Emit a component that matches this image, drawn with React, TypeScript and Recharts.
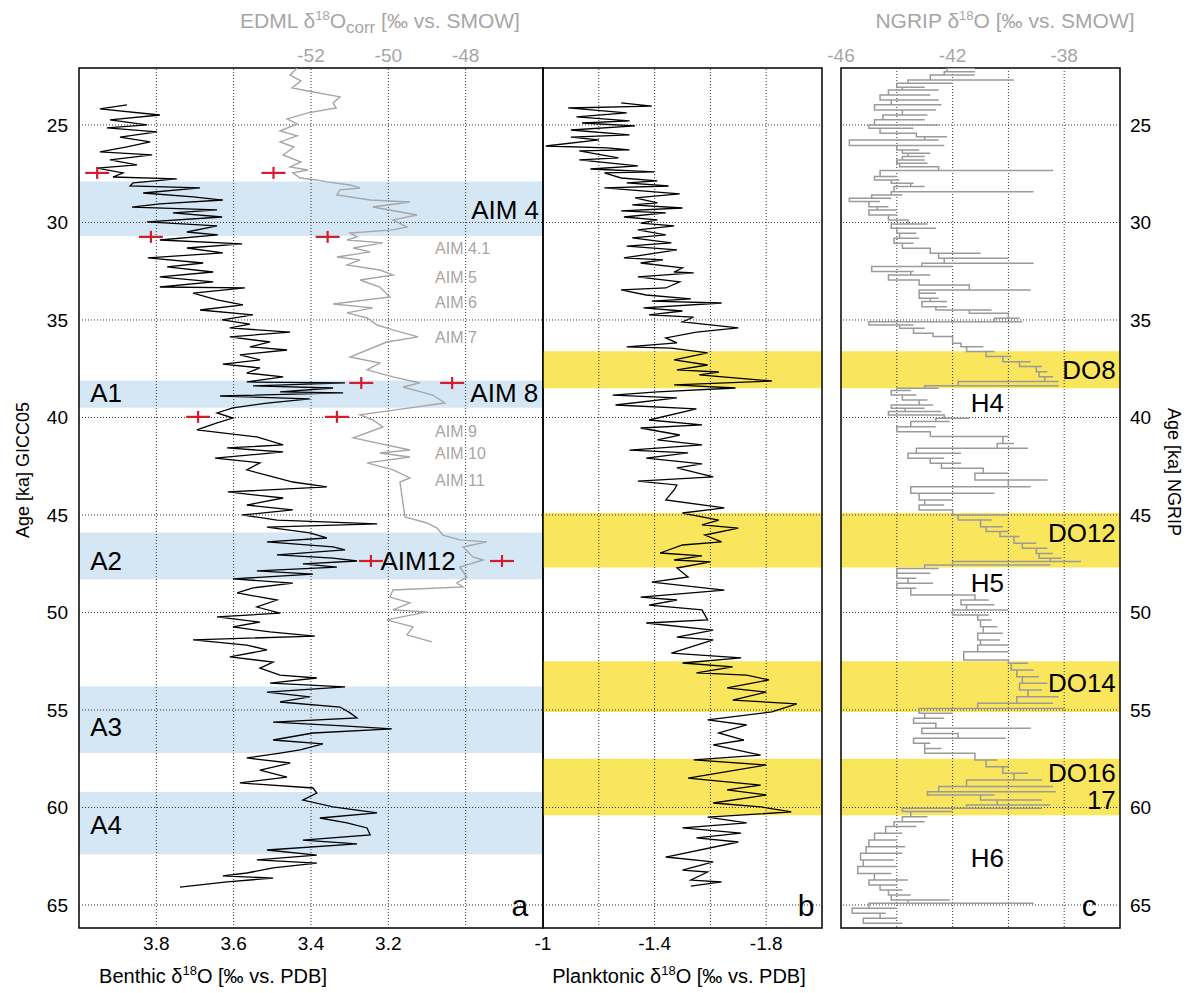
import React from 'react';
import { LineChart, Line, XAxis, YAxis, ReferenceArea, ReferenceLine, ReferenceDot } from 'recharts';

// age axis (ka, GICC05), shared by all three panels
const ageDomain = [22.08, 66.18];
const ageTicks = [25, 30, 35, 40, 45, 50, 55, 60, 65];

const benthicTicks = [3.8, 3.6, 3.4, 3.2];
const benthicGrid = [3.8, 3.6, 3.4, 3.2, 3.0];
const edmlTicks = [-52, -50, -48];
const plankTicks = [-1, -1.4, -1.8];
const plankGrid = [-1.2, -1.4, -1.6, -1.8];
const ngripTicks = [-46, -42, -38];
const ngripGrid = [-44, -42, -40, -38];

// Antarctic isotope maxima (blue) and DO interstadials (yellow), age ranges
const aimBands = [[27.9, 30.7], [38.1, 39.5], [45.9, 48.3], [53.8, 57.2], [59.2, 62.4]];
const doBands = [[36.6, 38.5], [44.9, 47.7], [52.5, 55.1], [57.5, 60.4]];

// [age, benthic d18O]
const benthic = [
  [23.97, 3.876], [24.18, 3.946], [24.49, 3.791], [24.74, 3.92], [25.0, 3.824], [25.15, 3.928], [25.36, 3.798],
  [25.62, 3.894], [25.87, 3.816], [26.13, 3.876], [26.38, 3.946], [26.54, 3.811], [26.79, 3.92], [27.05, 3.85],
  [27.21, 3.953], [27.46, 3.886], [27.67, 3.912], [27.77, 3.747], [27.97, 3.86], [28.13, 3.868], [28.23, 3.687],
  [28.49, 3.834], [28.69, 3.705], [28.85, 3.628], [29.05, 3.791], [29.21, 3.863], [29.36, 3.643], [29.51, 3.757],
  [29.72, 3.63], [29.97, 3.824], [30.18, 3.643], [30.49, 3.721], [30.64, 3.641], [30.9, 3.791], [31.1, 3.578],
  [31.31, 3.721], [31.56, 3.628], [31.82, 3.822], [32.08, 3.679], [32.28, 3.772], [32.54, 3.653], [32.79, 3.791],
  [33.05, 3.653], [33.31, 3.791], [33.36, 3.571], [33.62, 3.705], [33.97, 3.643], [34.23, 3.576], [34.49, 3.687],
  [34.74, 3.55], [35.0, 3.63], [35.21, 3.558], [35.41, 3.61], [35.62, 3.454], [35.87, 3.61], [36.13, 3.506],
  [36.38, 3.558], [36.54, 3.462], [36.79, 3.584], [37.05, 3.532], [37.26, 3.628], [37.46, 3.532], [37.72, 3.566],
  [37.92, 3.472], [38.18, 3.566], [38.23, 3.312], [38.38, 3.55], [38.49, 3.343], [38.69, 3.48], [38.74, 3.317],
  [38.9, 3.635], [39.05, 3.403], [39.26, 3.514], [39.51, 3.602], [39.77, 3.643], [40.03, 3.602], [40.28, 3.643],
  [40.64, 3.695], [41.0, 3.54], [41.41, 3.472], [41.56, 3.617], [41.77, 3.472], [42.08, 3.648], [42.33, 3.532],
  [42.69, 3.566], [43.05, 3.498], [43.31, 3.447], [43.56, 3.359], [43.82, 3.615], [44.13, 3.472], [44.49, 3.566],
  [44.74, 3.447], [45.0, 3.578], [45.26, 3.488], [45.46, 3.229], [45.62, 3.514], [45.92, 3.403], [46.18, 3.359],
  [46.38, 3.514], [46.64, 3.343], [46.79, 3.312], [47.05, 3.488], [47.21, 3.343], [47.36, 3.281], [47.51, 3.421],
  [47.67, 3.333], [47.87, 3.54], [48.03, 3.395], [48.28, 3.602], [48.49, 3.447], [48.74, 3.55], [49.0, 3.591],
  [49.36, 3.488], [49.72, 3.54], [50.03, 3.48], [50.23, 3.643], [50.49, 3.532], [50.74, 3.602], [51.0, 3.506],
  [51.21, 3.39], [51.41, 3.705], [51.67, 3.566], [51.92, 3.514], [52.28, 3.61], [52.54, 3.498], [52.85, 3.532],
  [53.21, 3.48], [53.36, 3.385], [53.62, 3.506], [53.82, 3.312], [54.08, 3.514], [54.33, 3.403], [54.59, 3.48],
  [54.85, 3.325], [55.15, 3.299], [55.41, 3.281], [55.62, 3.498], [55.82, 3.317], [55.97, 3.191], [56.18, 3.395],
  [56.54, 3.498], [56.74, 3.369], [57.05, 3.428], [57.21, 3.48], [57.46, 3.566], [57.72, 3.454], [58.08, 3.532],
  [58.44, 3.462], [58.74, 3.584], [59.0, 3.395], [59.26, 3.385], [59.62, 3.421], [59.97, 3.343], [60.28, 3.229],
  [60.54, 3.377], [60.79, 3.307], [61.05, 3.255], [61.41, 3.247], [61.67, 3.421], [61.87, 3.281], [62.18, 3.514],
  [62.44, 3.385], [62.69, 3.54], [62.85, 3.385], [63.1, 3.498], [63.36, 3.566], [63.51, 3.628], [63.62, 3.498],
  [63.82, 3.617], [64.08, 3.739],
];

// [age, EDML d18O corr]
const edml = [
  [22.08, -52.36], [22.44, -52.54], [22.74, -52.26], [23.1, -52.49], [23.26, -52.08], [23.56, -51.25], [23.87, -51.43],
  [24.13, -51.35], [24.38, -52.08], [24.69, -52.62], [24.95, -52.36], [25.31, -52.8], [25.56, -52.36], [25.87, -52.8],
  [26.13, -52.44], [26.54, -52.72], [26.9, -52.26], [27.15, -52.54], [27.31, -52.08], [27.46, -52.47], [27.72, -52.28],
  [27.82, -51.85], [27.92, -51.59], [28.08, -50.99], [28.23, -50.73], [28.33, -51.25], [28.59, -51.33], [28.85, -50.47],
  [28.95, -49.44], [29.21, -50.4], [29.62, -49.26], [29.87, -49.88], [30.23, -49.52], [30.38, -49.88], [30.54, -50.99],
  [30.74, -50.81], [30.9, -51.07], [31.05, -50.14], [31.31, -50.91], [31.51, -50.47], [31.77, -51.33], [31.92, -50.73],
  [32.18, -51.07], [32.44, -50.22], [32.69, -49.88], [32.95, -50.73], [33.31, -50.22], [33.82, -49.96], [34.18, -51.43],
  [34.38, -50.4], [34.64, -51.07], [34.9, -50.55], [35.26, -50.29], [35.51, -49.88], [35.87, -49.23], [36.13, -50.04],
  [36.9, -50.99], [37.21, -50.22], [37.56, -50.55], [37.92, -49.88], [38.23, -49.18], [38.44, -49.62], [38.85, -48.85],
  [39.26, -48.54], [39.51, -49.44], [39.87, -50.73], [40.13, -50.4], [40.49, -50.14], [41.05, -50.91], [41.67, -49.44],
  [41.82, -50.22], [42.03, -49.44], [42.33, -50.55], [42.69, -49.88], [43.1, -49.44], [43.31, -49.7], [45.1, -49.57],
  [45.41, -49.0], [45.67, -48.74], [46.03, -48.59], [46.28, -48.15], [46.38, -47.45], [46.64, -48.07], [47.15, -47.81],
  [47.31, -47.55], [47.67, -48.15], [48.18, -47.97], [48.49, -48.23], [48.69, -48.07], [48.85, -49.88], [49.21, -49.96],
  [49.51, -49.44], [49.87, -49.88], [49.97, -49.0], [50.38, -50.04], [50.74, -49.36], [51.15, -49.52], [51.51, -48.87],
];

// tie points with error bars: [age, value]
const benthicTies = [[27.46, 3.953], [30.74, 3.814], [38.23, 3.27], [39.97, 3.692], [47.36, 3.245]];
const edmlTies = [[27.46, -52.97], [30.74, -51.57], [38.23, -48.35], [39.97, -51.33], [47.36, -47.06]];

// [age, planktonic d18O]
const planktonic = [
  [23.87, -1.28], [24.03, -1.39], [24.13, -1.09], [24.38, -1.3], [24.59, -1.12], [24.79, -1.31], [24.9, -1.14],
  [25.05, -1.33], [25.26, -1.1], [25.51, -1.31], [25.62, -1.1], [25.77, -1.2], [26.08, -1.01], [26.18, -1.23],
  [26.28, -1.31], [26.33, -1.13], [26.69, -1.27], [26.79, -1.13], [27.1, -1.34], [27.26, -1.17], [27.41, -1.4],
  [27.46, -1.22], [27.72, -1.28], [27.87, -1.41], [27.97, -1.3], [28.13, -1.45], [28.23, -1.22], [28.54, -1.49],
  [28.74, -1.33], [29.0, -1.41], [29.1, -1.32], [29.26, -1.5], [29.41, -1.28], [29.51, -1.44], [29.72, -1.29],
  [29.87, -1.41], [30.03, -1.35], [30.18, -1.47], [30.38, -1.34], [30.64, -1.44], [30.79, -1.32], [31.05, -1.46],
  [31.21, -1.3], [31.41, -1.48], [31.82, -1.29], [31.92, -1.43], [32.08, -1.35], [32.33, -1.5], [32.54, -1.47],
  [32.59, -1.54], [32.79, -1.34], [33.05, -1.49], [33.36, -1.44], [33.46, -1.28], [33.72, -1.37], [33.92, -1.53],
  [34.03, -1.39], [34.13, -1.64], [34.38, -1.36], [34.54, -1.5], [34.74, -1.38], [34.85, -1.54], [35.1, -1.5],
  [35.41, -1.7], [35.62, -1.55], [35.92, -1.44], [36.18, -1.48], [36.38, -1.3], [36.44, -1.46], [36.69, -1.59],
  [37.05, -1.47], [37.31, -1.59], [37.56, -1.48], [37.67, -1.63], [37.82, -1.56], [38.13, -1.82], [38.33, -1.47],
  [38.49, -1.69], [38.69, -1.41], [38.85, -1.25], [39.0, -1.48], [39.36, -1.26], [39.56, -1.55], [40.13, -1.38],
  [40.38, -1.57], [40.54, -1.35], [40.9, -1.49], [41.15, -1.41], [41.41, -1.57], [41.67, -1.31], [41.82, -1.52],
  [42.08, -1.37], [42.38, -1.57], [42.59, -1.48], [43.05, -1.61], [43.26, -1.34], [43.46, -1.48], [43.72, -1.47],
  [44.23, -1.44], [44.64, -1.65], [44.9, -1.5], [45.26, -1.63], [45.51, -1.57], [45.67, -1.7], [46.03, -1.58],
  [46.38, -1.64], [46.54, -1.5], [46.95, -1.42], [47.1, -1.57], [47.31, -1.47], [47.41, -1.6], [47.72, -1.48],
  [48.18, -1.52], [48.44, -1.39], [48.85, -1.65], [49.21, -1.35], [49.36, -1.48], [49.62, -1.38], [49.87, -1.57],
  [50.38, -1.59], [50.54, -1.37], [50.9, -1.61], [51.26, -1.48], [51.41, -1.61], [52.08, -1.46], [52.33, -1.71],
  [52.59, -1.5], [52.79, -1.68], [53.1, -1.55], [53.21, -1.73], [53.46, -1.81], [53.87, -1.66], [54.08, -1.8],
  [54.49, -1.68], [54.69, -1.91], [55.1, -1.82], [55.51, -1.59], [55.77, -1.73], [56.18, -1.63], [56.54, -1.72],
  [56.79, -1.61], [57.31, -1.78], [57.56, -1.54], [57.82, -1.8], [58.49, -1.52], [58.85, -1.78], [59.1, -1.66],
  [59.36, -1.8], [59.77, -1.61], [59.97, -1.78], [60.23, -1.89], [60.49, -1.59], [60.79, -1.73], [61.05, -1.5],
  [61.31, -1.71], [61.56, -1.55], [61.77, -1.7], [62.54, -1.44], [62.79, -1.61], [63.21, -1.5], [63.31, -1.59],
  [63.72, -1.53], [63.82, -1.64], [64.03, -1.53],
];

// NGRIP d18O, one row per sample interval: [age, low, high]
const ngripRows = [
  [22.09, -42.0, -41.2], [22.27, -42.2, -41.2], [22.44, -42.3, -41.2], [22.69, -42.8, -39.8], [22.86, -43.6, -42.0],
  [23.07, -44.0, -43.0], [23.21, -43.8, -42.5], [23.46, -44.3, -42.8], [23.72, -44.6, -42.5], [23.97, -44.2, -42.4],
  [24.23, -44.8, -42.6], [24.49, -43.8, -42.9], [24.74, -44.5, -43.0], [25.0, -44.8, -42.5], [25.17, -45.0, -43.4],
  [25.43, -44.6, -43.5], [25.6, -43.3, -42.2], [25.77, -43.0, -42.5], [26.06, -45.7, -42.3], [26.28, -44.0, -43.2],
  [26.45, -43.8, -42.8], [26.62, -43.6, -43.0], [26.8, -43.8, -43.0], [26.97, -44.0, -42.9], [27.14, -43.9, -42.5],
  [27.34, -42.5, -38.4], [27.65, -44.6, -44.0], [27.82, -44.8, -43.9], [27.99, -44.2, -43.4], [28.16, -43.5, -43.0],
  [28.42, -44.1, -39.1], [28.59, -44.2, -43.8], [28.76, -44.9, -44.2], [28.93, -45.7, -44.6], [29.19, -45.0, -44.3],
  [29.36, -44.7, -44.0], [29.62, -45.0, -44.0], [29.87, -44.3, -43.9], [30.08, -43.6, -42.9], [30.3, -44.2, -42.6],
  [30.56, -44.0, -43.3], [30.81, -43.9, -43.2], [31.07, -44.1, -43.4], [31.32, -43.8, -43.0], [31.58, -42.8, -41.0],
  [31.84, -42.5, -40.0], [32.09, -42.3, -39.1], [32.26, -43.1, -42.0], [32.52, -44.9, -43.4], [32.69, -43.5, -42.8],
  [32.95, -44.3, -43.6], [33.21, -43.2, -42.9], [33.46, -41.4, -39.2], [33.63, -43.2, -42.6], [33.89, -43.2, -42.5],
  [34.06, -42.8, -42.2], [34.32, -43.1, -42.2], [34.49, -42.6, -40.6], [34.66, -41.4, -40.7], [34.91, -40.0, -39.6],
  [35.09, -40.5, -39.5], [35.26, -45.0, -43.4], [35.43, -43.9, -43.0], [35.68, -43.4, -42.7], [35.85, -42.7, -42.0],
  [36.2, -42.0, -41.7], [36.37, -41.7, -40.9], [36.62, -41.5, -40.5], [36.88, -40.8, -39.9], [37.14, -40.2, -39.2],
  [37.39, -39.6, -38.8], [37.65, -39.0, -38.6], [37.91, -38.9, -38.4], [38.16, -38.7, -38.2], [38.38, -41.8, -38.2],
  [38.5, -43.0, -42.5], [38.62, -44.0, -43.5], [38.85, -44.2, -43.3], [39.1, -43.8, -42.9], [39.36, -43.2, -42.7],
  [39.53, -44.2, -43.0], [39.7, -43.7, -42.4], [39.87, -44.3, -43.3], [40.04, -42.3, -41.4], [40.21, -42.6, -42.1],
  [40.47, -43.5, -42.6], [40.73, -44.0, -42.9], [40.98, -42.8, -40.0], [41.33, -40.2, -39.8], [41.58, -40.4, -39.3],
  [41.84, -43.3, -41.7], [42.09, -43.6, -42.3], [42.35, -42.8, -41.7], [42.61, -42.4, -41.2], [42.86, -40.9, -40.0],
  [43.21, -41.2, -38.6], [43.55, -40.0, -39.2], [43.89, -43.5, -40.5], [44.23, -43.2, -42.0], [44.49, -43.0, -42.3],
  [44.74, -43.2, -42.1], [45.0, -42.0, -40.0], [45.26, -41.8, -40.6], [45.6, -41.0, -40.2], [45.85, -40.8, -40.0],
  [46.11, -40.3, -39.6], [46.45, -39.8, -39.0], [46.71, -39.5, -38.6], [46.97, -39.0, -38.4], [47.22, -38.9, -38.1],
  [47.39, -38.5, -37.4], [47.56, -42.0, -38.5], [47.74, -43.0, -42.5], [47.99, -44.0, -42.8], [48.25, -44.0, -43.3],
  [48.5, -43.6, -42.7], [48.76, -44.0, -43.3], [49.1, -43.5, -42.0], [49.36, -41.2, -40.7], [49.61, -41.7, -40.5],
  [49.87, -41.5, -40.0], [50.13, -42.0, -40.7], [50.38, -41.1, -40.6], [50.73, -41.0, -40.4], [51.07, -40.9, -40.2],
  [51.41, -41.1, -40.3], [51.67, -41.0, -40.0], [52.01, -41.1, -40.0], [52.44, -41.6, -40.5], [52.61, -40.0, -39.3],
  [52.95, -39.9, -39.1], [53.29, -39.7, -38.9], [53.63, -39.5, -38.6], [53.98, -39.6, -38.8], [54.32, -39.3, -38.2],
  [54.66, -39.7, -38.4], [54.92, -41.1, -38.0], [55.17, -43.2, -42.0], [55.43, -43.0, -42.3], [55.68, -43.4, -42.7],
  [55.94, -42.6, -39.2], [56.2, -43.1, -42.3], [56.45, -41.8, -40.1], [56.71, -43.4, -42.8], [56.97, -43.0, -42.4],
  [57.22, -43.0, -42.0], [57.56, -41.2, -40.4], [57.91, -40.8, -40.0], [58.25, -40.2, -39.3], [58.59, -39.8, -38.8],
  [58.93, -41.5, -38.4], [59.19, -42.5, -38.3], [59.36, -42.9, -40.5], [59.62, -41.0, -38.8], [59.87, -40.4, -38.5],
  [60.04, -41.5, -38.8], [60.21, -43.8, -42.0], [60.47, -43.5, -42.9], [60.73, -43.8, -43.0], [60.98, -44.1, -43.3],
  [61.32, -44.4, -43.8], [61.67, -44.8, -44.0], [62.01, -45.0, -43.7], [62.35, -45.1, -43.8], [62.69, -45.3, -44.1],
  [63.03, -45.2, -44.0], [63.38, -45.4, -44.2], [63.72, -44.8, -43.6], [63.97, -45.0, -44.0], [64.23, -44.6, -43.8],
  [64.49, -44.3, -43.5], [64.74, -44.2, -42.1], [64.91, -43.6, -39.1], [65.17, -45.0, -44.0], [65.43, -45.6, -44.4],
  [65.68, -44.6, -44.0], [65.94, -45.2, -43.8],
];

// text annotations: [text, age, value]
const aimLabels = [['AIM 4', 29.36, 2.898], ['AIM 8', 38.74, 2.9], ['AIM12', 47.36, 3.123]];
const stadialLabels = [['A1', 38.74, 3.93], ['A2', 47.36, 3.93], ['A3', 55.87, 3.93], ['A4', 60.9, 3.93]];
const minorAim = [['AIM 4.1', 31.31], ['AIM 5', 32.79], ['AIM 6', 34.08], ['AIM 7', 35.87], ['AIM 9', 40.69], ['AIM 10', 41.82], ['AIM 11', 43.2]];
const doLabels = [['DO8', 37.56], ['DO12', 45.92], ['DO14', 53.62], ['DO16', 58.23], ['17', 59.62]];
const hLabels = [['H4', 39.26], ['H5', 48.49], ['H6', 62.59]];

const pts = (arr: number[][]) => arr.map(([age, v]) => ({ age, v }));
const ngrip = ngripRows.flatMap(([age, lo, hi]) => [{ age, v: lo }, { age, v: hi }]);

const FONT = '"Liberation Sans", Arial, Helvetica, sans-serif';
const GREY = '#a6a6a6';
const BLUE = '#d5e7f5';
const YELLOW = '#f9e65c';
const RED = '#d31d2d';
const grid = { stroke: '#333', strokeDasharray: '1 2', strokeWidth: 1 };

const renderCross = (p: any) => {
  const { cx, cy, index } = p;
  if (cx == null || cy == null) return <g key={`x-${index}`} />;
  return (
    <g key={`x-${index}`}>
      <line x1={cx - 12} x2={cx + 12} y1={cy} y2={cy} stroke={RED} strokeWidth={2.2} />
      <line x1={cx} x2={cx} y1={cy - 6} y2={cy + 6} stroke={RED} strokeWidth={2.2} />
    </g>
  );
};

// in a vertical layout the y scale already runs top to bottom
const ageAxis = (props: any) => (
  <YAxis
    type="number"
    dataKey="age"
    domain={ageDomain}
    allowDataOverflow
    ticks={ageTicks}
    interval={0}
    tickSize={0}
    axisLine={false}
    tick={{ fontSize: 19, fill: '#000' }}
    {...props}
  />
);

const frame = (xAxisId: string) => (
  <ReferenceArea xAxisId={xAxisId} y1={ageDomain[0]} y2={ageDomain[1]} fill="none" stroke="#000" strokeWidth={1.5} ifOverflow="extendDomain" />
);

const hGrid = (xAxisId: string) =>
  ageTicks.map((t) => <ReferenceLine key={`h${t}`} xAxisId={xAxisId} y={t} {...grid} />);

function PanelA() {
  return (
    <LineChart layout="vertical" width={560} height={993} margin={{ top: 38, right: 17, bottom: 35, left: 19 }}>
      <XAxis xAxisId="b" type="number" dataKey="v" orientation="bottom" domain={[2.8, 4.0]} reversed allowDataOverflow
        ticks={benthicTicks} interval={0} height={30} tickSize={0} tickMargin={9} axisLine={false}
        tick={{ fontSize: 19, fill: '#000' }} />
      <XAxis xAxisId="e" type="number" dataKey="v" orientation="top" domain={[-58, -46]} allowDataOverflow
        ticks={edmlTicks} interval={0} height={30} tickSize={0} tickMargin={6} axisLine={false}
        tick={{ fontSize: 19, fill: GREY }} />
      {ageAxis({ width: 60, tickMargin: 11 })}
      {aimBands.map(([a, b], i) => (
        <ReferenceArea key={`ab${i}`} xAxisId="b" y1={a} y2={b} fill={BLUE} fillOpacity={1} stroke="none" />
      ))}
      {hGrid('b')}
      {benthicGrid.map((t) => <ReferenceLine key={`v${t}`} xAxisId="b" x={t} {...grid} />)}
      <Line xAxisId="e" data={pts(edml)} dataKey="v" stroke={GREY} strokeWidth={1.4} dot={false} isAnimationActive={false} />
      <Line xAxisId="b" data={pts(benthic)} dataKey="v" stroke="#000" strokeWidth={1.3} dot={false} isAnimationActive={false} />
      <Line xAxisId="b" data={pts(benthicTies)} dataKey="v" stroke="none" dot={renderCross} isAnimationActive={false} />
      <Line xAxisId="e" data={pts(edmlTies)} dataKey="v" stroke="none" dot={renderCross} isAnimationActive={false} />
      {aimLabels.map(([s, age, v]) => (
        <ReferenceDot key={s as string} xAxisId="b" x={v as number} y={age as number} r={0} stroke="none"
          label={{ value: s, position: 'center', fontSize: 26, fill: '#000' }} />
      ))}
      {stadialLabels.map(([s, age, v]) => (
        <ReferenceDot key={s as string} xAxisId="b" x={v as number} y={age as number} r={0} stroke="none"
          label={{ value: s, position: 'center', fontSize: 26, fill: '#000' }} />
      ))}
      {minorAim.map(([s, age]) => (
        <ReferenceDot key={s as string} xAxisId="b" x={3.079} y={age as number} r={0} stroke="none"
          label={{ value: s, position: 'right', offset: 0, fontSize: 16, fill: GREY }} />
      ))}
      <ReferenceDot xAxisId="b" x={2.86} y={65} r={0} stroke="none" label={{ value: 'a', position: 'center', fontSize: 30, fill: '#000' }} />
      {frame('b')}
    </LineChart>
  );
}

function PanelB() {
  return (
    <LineChart layout="vertical" width={320} height={993} margin={{ top: 68, right: 18, bottom: 35, left: 23 }}>
      <XAxis xAxisId="p" type="number" dataKey="v" orientation="bottom" domain={[-2, -1]} reversed allowDataOverflow
        ticks={plankTicks} interval={0} height={30} tickSize={0} tickMargin={9} axisLine={false}
        tick={{ fontSize: 19, fill: '#000' }} />
      {ageAxis({ hide: true })}
      {doBands.map(([a, b], i) => (
        <ReferenceArea key={`db${i}`} xAxisId="p" y1={a} y2={b} fill={YELLOW} fillOpacity={1} stroke="none" />
      ))}
      {hGrid('p')}
      {plankGrid.map((t) => <ReferenceLine key={`v${t}`} xAxisId="p" x={t} {...grid} />)}
      <Line xAxisId="p" data={pts(planktonic)} dataKey="v" stroke="#000" strokeWidth={1.3} dot={false} isAnimationActive={false} />
      <ReferenceDot xAxisId="p" x={-1.943} y={65} r={0} stroke="none" label={{ value: 'b', position: 'center', fontSize: 30, fill: '#000' }} />
      {frame('p')}
    </LineChart>
  );
}

function PanelC() {
  return (
    <LineChart layout="vertical" width={371} height={993} margin={{ top: 38, right: 31, bottom: 65, left: 21 }}>
      <XAxis xAxisId="n" type="number" dataKey="v" orientation="top" domain={[-46, -36]} allowDataOverflow
        ticks={ngripTicks} interval={0} height={30} tickSize={0} tickMargin={6} axisLine={false}
        tick={{ fontSize: 19, fill: GREY }} />
      {ageAxis({ orientation: 'right', width: 40, tickMargin: 10 })}
      {doBands.map(([a, b], i) => (
        <ReferenceArea key={`db${i}`} xAxisId="n" y1={a} y2={b} fill={YELLOW} fillOpacity={1} stroke="none" />
      ))}
      {hGrid('n')}
      {ngripGrid.map((t) => <ReferenceLine key={`v${t}`} xAxisId="n" x={t} {...grid} />)}
      <Line xAxisId="n" data={ngrip} dataKey="v" type="stepAfter" stroke="#9a9a9a" strokeWidth={1.5} dot={false} isAnimationActive={false} />
      {doLabels.map(([s, age]) => (
        <ReferenceDot key={s as string} xAxisId="n" x={-36.15} y={age as number} r={0} stroke="none"
          label={{ value: s, position: 'left', offset: 0, fontSize: 26, fill: '#000' }} />
      ))}
      {hLabels.map(([s, age]) => (
        <ReferenceDot key={s as string} xAxisId="n" x={-40.75} y={age as number} r={0} stroke="none"
          label={{ value: s, position: 'center', fontSize: 26, fill: '#000' }} />
      ))}
      <ReferenceDot xAxisId="n" x={-37.1} y={65} r={0} stroke="none" label={{ value: 'c', position: 'center', fontSize: 30, fill: '#000' }} />
      {frame('n')}
    </LineChart>
  );
}

function Titles() {
  return (
    <svg width={1191} height={993} style={{ position: 'absolute', left: 0, top: 0, pointerEvents: 'none' }}>
      <text x={380} y={28} textAnchor="middle" fontSize={21} fill={GREY}>
        EDML δ<tspan dy={-8} fontSize={13}>18</tspan><tspan dy={8}>O</tspan>
        <tspan dy={5} fontSize={17}>corr</tspan><tspan dy={-5}> [‰ vs. SMOW]</tspan>
      </text>
      <text x={1005} y={28} textAnchor="middle" fontSize={21} fill={GREY}>
        NGRIP δ<tspan dy={-8} fontSize={13}>18</tspan><tspan dy={8}>O [‰ vs. SMOW]</tspan>
      </text>
      <text x={213} y={983} textAnchor="middle" fontSize={20} fill="#000">
        Benthic δ<tspan dy={-8} fontSize={13}>18</tspan><tspan dy={8}>O [‰ vs. PDB]</tspan>
      </text>
      <text x={679} y={983} textAnchor="middle" fontSize={20} fill="#000">
        Planktonic δ<tspan dy={-8} fontSize={13}>18</tspan><tspan dy={8}>O [‰ vs. PDB]</tspan>
      </text>
      <text transform="translate(29,470) rotate(-90)" textAnchor="middle" fontSize={18} fill="#000">Age [ka] GICC05</text>
      <text transform="translate(1168,472) rotate(90)" textAnchor="middle" fontSize={18} fill="#000">Age [ka] NGRIP</text>
    </svg>
  );
}

export default function App() {
  return (
    <div style={{ position: 'absolute', left: 0, top: 0, width: 1191, height: 993, background: '#fff', fontFamily: FONT }}>
      <div style={{ position: 'absolute', left: 0, top: 0 }}><PanelA /></div>
      <div style={{ position: 'absolute', left: 520, top: 0 }}><PanelB /></div>
      <div style={{ position: 'absolute', left: 820, top: 0 }}><PanelC /></div>
      <Titles />
    </div>
  );
}
